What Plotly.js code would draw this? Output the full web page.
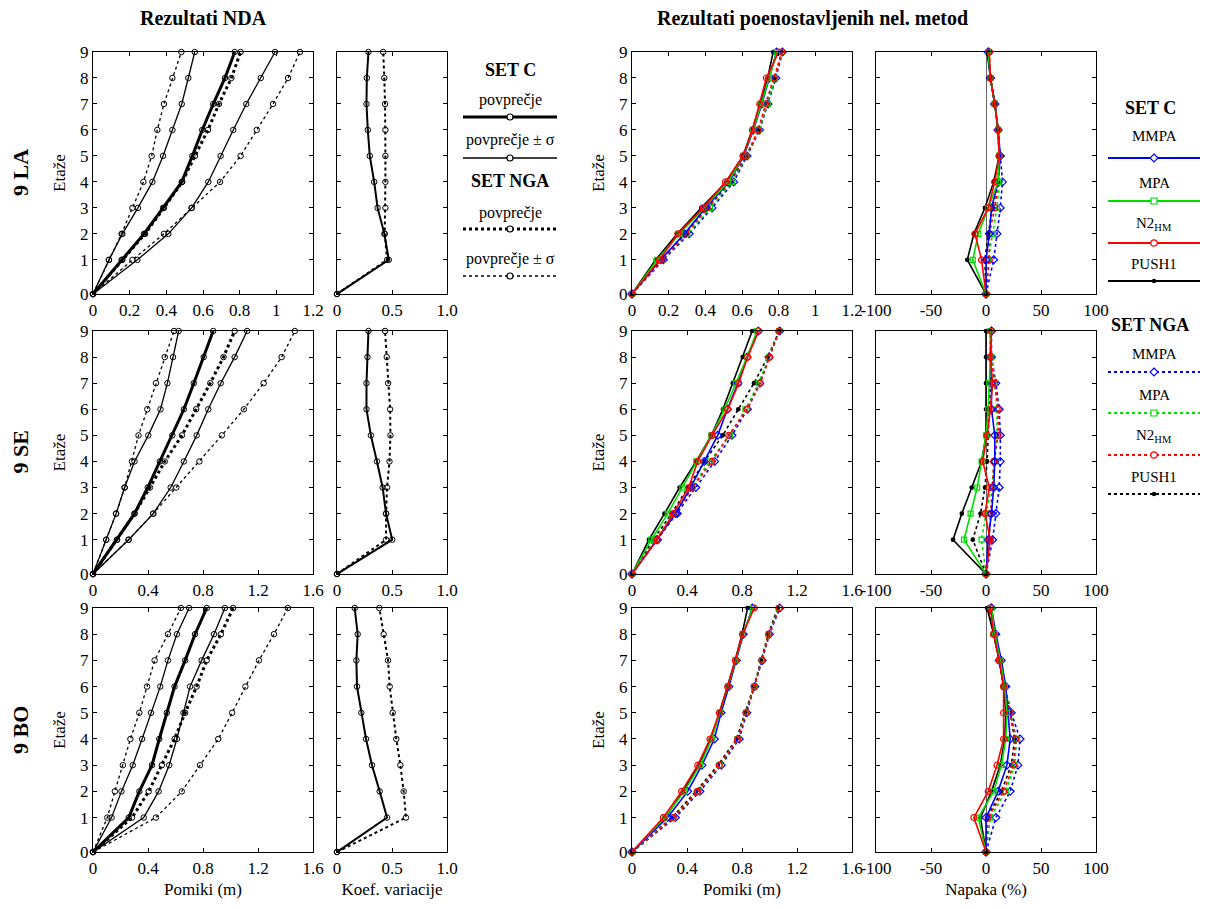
<!DOCTYPE html>
<html><head><meta charset="utf-8">
<script src="https://cdn.plot.ly/plotly-3.0.1.min.js"></script>
<style>html,body{margin:0;padding:0;background:#fff}</style>
</head><body><div id="chart" style="width:1224px;height:909px"></div>
<script>
// ---------- DATA ----------
const floorLabels = ['0','1','2','3','4','5','6','7','8','9'];
const floorElev = [0, 4.6, 8.1, 11.6, 15.1, 18.6, 22.1, 25.6, 29.1, 32.6]; // storey elevations (m)
const errTickVals = [-100, -50, 0, 50, 100];
const errTickText = ['-100', '-50', '0', '50', '100'];
const covTickVals = [0, 0.5, 1];
const covTickText = ['0', '0.5', '1.0'];

// 9 LA - NDA
const la_C_minus   = [0, .087, .160, .245, .324, .382, .433, .484, .520, .555];
const la_C_mean    = [0, .156, .278, .382, .484, .542, .596, .656, .720, .773];
const la_C_plus    = [0, .242, .411, .538, .629, .696, .765, .836, .915, .993];
const la_NGA_minus = [0, .087, .156, .215, .275, .320, .351, .387, .433, .482];
const la_NGA_mean  = [0, .160, .284, .387, .487, .556, .627, .687, .755, .805];
const la_NGA_plus  = [0, .215, .387, .538, .693, .805, .893, .982, 1.064, 1.129];
const la_C_cov     = [0, .471, .431, .369, .338, .298, .280, .268, .271, .286];
const la_NGA_cov   = [0, .455, .434, .440, .440, .440, .440, .437, .430, .420];
// 9 LA - simplified methods
const la_MMPA_C   = [0, .156, .286, .401, .530, .610, .662, .708, .749, .788];
const la_MPA_C    = [0, .137, .259, .390, .525, .607, .660, .705, .747, .790];
const la_N2_C     = [0, .150, .250, .388, .510, .606, .657, .697, .733, .800];
const la_PUSH_C   = [0, .129, .247, .378, .515, .605, .655, .700, .740, .770];
const la_MMPA_NGA = [0, .171, .312, .437, .555, .628, .696, .742, .785, .821];
const la_MPA_NGA  = [0, .163, .301, .426, .545, .623, .693, .740, .780, .818];
const la_N2_NGA   = [0, .165, .293, .410, .534, .624, .688, .729, .775, .818];
const la_PUSH_NGA = [0, .158, .290, .410, .541, .623, .694, .740, .783, .815];
const la_MMPA_C_err   = [0, 0, 3, 5, 11, 13, 11, 8, 4, 2];
const la_MPA_C_err    = [0, -12, -7, 2, 11, 12, 11, 8, 4, 2];
const la_N2_C_err     = [0, -4, -10, 2, 8, 12, 11, 8, 4, 3];
const la_PUSH_C_err   = [0, -17, -11, -1, 7, 12, 11, 8, 4, 1];
const la_MMPA_NGA_err = [0, 7, 10, 13, 15, 13, 11, 8, 4, 2];
const la_MPA_NGA_err  = [0, 2, 6, 10, 12, 12, 11, 8, 4, 2];
const la_N2_NGA_err   = [0, 3, 3, 8, 11, 12, 11, 8, 4, 3];
const la_PUSH_NGA_err = [0, -1, 2, 6, 11, 12, 11, 8, 4, 2];

// 9 SE - NDA
const se_C_minus   = [0, .096, .168, .230, .302, .402, .491, .541, .582, .623];
const se_C_mean    = [0, .175, .302, .398, .486, .577, .661, .733, .805, .874];
const se_C_plus    = [0, .259, .438, .565, .661, .754, .838, .929, 1.030, 1.121];
const se_NGA_minus = [0, .096, .168, .230, .283, .331, .395, .458, .522, .589];
const se_NGA_mean  = [0, .175, .302, .414, .522, .647, .750, .853, .949, 1.030];
const se_NGA_plus  = [0, .259, .438, .606, .774, .937, 1.097, 1.241, 1.372, 1.468];
const se_C_cov     = [0, .502, .446, .415, .363, .308, .268, .268, .277, .286];
const se_NGA_cov   = [0, .446, .446, .455, .477, .486, .483, .465, .452, .437];
// 9 SE - simplified methods
const se_MMPA_C   = [0, .179, .317, .426, .525, .623, .694, .770, .837, .918];
const se_MPA_C    = [0, .140, .260, .366, .467, .577, .674, .755, .837, .909];
const se_N2_C     = [0, .182, .299, .412, .478, .582, .696, .776, .841, .921];
const se_PUSH_C   = [0, .123, .236, .346, .467, .577, .661, .733, .805, .874];
const se_MMPA_NGA = [0, .186, .329, .464, .601, .727, .840, .930, .996, 1.075];
const se_MPA_NGA  = [0, .168, .302, .435, .564, .712, .825, .921, .996, 1.071];
const se_N2_NGA   = [0, .180, .314, .439, .582, .703, .836, .933, 1.001, 1.067];
const se_PUSH_NGA = [0, .154, .287, .410, .527, .660, .773, .887, .987, 1.071];
const se_MMPA_C_err   = [0, 2, 5, 7, 8, 8, 5, 5, 4, 5];
const se_MPA_C_err    = [0, -20, -14, -8, -4, 0, 2, 3, 4, 4];
const se_N2_C_err     = [0, 4, -1, 3, -3, 1, 4, 6, 4, 5];
const se_PUSH_C_err   = [0, -30, -22, -13, -4, 0, 0, 0, 0, 0];
const se_MMPA_NGA_err = [0, 6, 9, 12, 13, 13, 12, 9, 5, 5];
const se_MPA_NGA_err  = [0, -4, 0, 5, 8, 10, 10, 8, 5, 4];
const se_N2_NGA_err   = [0, 3, 4, 6, 7, 11, 11, 8, 4, 5];
const se_PUSH_NGA_err = [0, -12, -5, -1, 1, 2, 3, 4, 4, 4];

// 9 BO - NDA
const bo_C_minus   = [0, .135, .207, .289, .357, .422, .489, .545, .610, .699];
const bo_C_mean    = [0, .260, .337, .429, .482, .537, .593, .670, .742, .827];
const bo_C_plus    = [0, .369, .477, .554, .610, .658, .706, .790, .880, .959];
const bo_NGA_minus = [0, .104, .159, .217, .272, .337, .393, .448, .545, .639];
const bo_NGA_mean  = [0, .284, .405, .501, .593, .670, .754, .827, .930, 1.019];
const bo_NGA_plus  = [0, .458, .646, .778, .911, 1.012, 1.108, 1.207, 1.316, 1.417];
const bo_C_cov     = [0, .455, .388, .318, .264, .221, .182, .176, .188, .161];
const bo_NGA_cov   = [0, .627, .606, .576, .539, .506, .479, .464, .424, .385];
// 9 BO - simplified methods
const bo_MMPA_C   = [0, .259, .405, .509, .599, .648, .705, .760, .810, .875];
const bo_MPA_C    = [0, .240, .380, .495, .580, .640, .700, .755, .805, .880];
const bo_N2_C     = [0, .228, .361, .478, .567, .635, .696, .752, .805, .890];
const bo_PUSH_C   = [0, .245, .370, .485, .572, .636, .694, .750, .800, .841];
const bo_MMPA_NGA = [0, .315, .494, .650, .780, .835, .893, .948, 1.000, 1.075];
const bo_MPA_NGA  = [0, .298, .480, .638, .768, .829, .888, .945, .994, 1.068];
const bo_N2_NGA   = [0, .300, .478, .635, .768, .829, .890, .945, .994, 1.072];
const bo_PUSH_NGA = [0, .290, .465, .625, .760, .825, .885, .940, .990, 1.060];
const bo_MMPA_C_err   = [0, 0, 11, 19, 22, 20, 18, 14, 9, 5];
const bo_MPA_C_err    = [0, -7, 7, 14, 18, 19, 17, 13, 8, 5];
const bo_N2_C_err     = [0, -11, 2, 10, 16, 16, 16, 12, 7, 4];
const bo_PUSH_C_err   = [0, -5, 5, 13, 17, 18, 16, 12, 7, 1];
const bo_MMPA_NGA_err = [0, 9, 22, 29, 31, 23, 17, 12, 8, 5];
const bo_MPA_NGA_err  = [0, 4, 18, 26, 28, 22, 17, 12, 7, 4];
const bo_N2_NGA_err   = [0, 2, 16, 25, 27, 22, 16, 12, 7, 4];
const bo_PUSH_NGA_err = [0, 1, 14, 23, 26, 22, 16, 12, 7, 3];

const rowLabels = ['9 LA', '9 SE', '9 BO'];
const dispRanges = [[0, 1.2], [0, 1.6], [0, 1.6]];
const dispDticks = [0.2, 0.4, 0.4];

// ---------- LAYOUT HELPERS ----------
const W = 1224, H = 909;
const colPx = [[93, 313], [337, 447], [632, 852], [876, 1096]];
const rowPx = [[52, 294], [331, 574], [608, 852]];
const FONT = 'Liberation Serif, Times New Roman, serif';
const px = x => x / W, py = y => 1 - y / H;

const traces = [];
const layout = {
  width: W, height: H, margin: {l: 0, r: 0, t: 0, b: 0},
  paper_bgcolor: '#fff', plot_bgcolor: '#fff', showlegend: false,
  font: {family: FONT, size: 17, color: '#000'},
  annotations: [], shapes: []
};
const an = (name, i) => i === 1 ? name : name + i;

function axes(p, r, c) {
  const xr = c === 1 ? [0, 1] : (c === 3 ? [-100, 100] : dispRanges[r]);
  const x = {
    domain: [px(colPx[c][0]), px(colPx[c][1])], anchor: an('y', p), range: xr,
    showline: true, mirror: 'ticks', linecolor: '#000', linewidth: 1.2,
    ticks: 'inside', ticklen: 4, tickcolor: '#000', showgrid: false,
    zeroline: c === 3, zerolinecolor: '#666', zerolinewidth: 1,
    tickfont: {family: FONT, size: 17, color: '#000'}
  };
  if (c === 1) { x.tickvals = covTickVals; x.ticktext = covTickText; }
  else if (c === 3) { x.tickvals = errTickVals; x.ticktext = errTickText; }
  else { x.tick0 = 0; x.dtick = dispDticks[r]; }
  if (r === 2) {
    const t = ['Pomiki (m)', 'Koef. variacije', 'Pomiki (m)', 'Napaka (%)'][c];
    x.title = {text: t, font: {family: FONT, size: 17}, standoff: 6};
  }
  const y = {
    domain: [py(rowPx[r][1]), py(rowPx[r][0])], anchor: an('x', p), range: [0, floorElev[9]],
    showline: true, mirror: 'ticks', linecolor: '#000', linewidth: 1.2,
    ticks: 'inside', ticklen: 4, tickcolor: '#000', showgrid: false, zeroline: false,
    tickvals: floorElev, ticktext: floorLabels,
    showticklabels: (c === 0 || c === 2),
    tickfont: {family: FONT, size: 17, color: '#000'}
  };
  if (c === 0 || c === 2) y.title = {text: 'Etaže', font: {family: FONT, size: 17}, standoff: 10};
  layout[an('xaxis', p)] = x;
  layout[an('yaxis', p)] = y;
}

function tr(p, xs, style) {
  traces.push(Object.assign({
    type: 'scatter', mode: 'lines+markers', x: xs, y: floorElev,
    xaxis: an('x', p), yaxis: an('y', p), hoverinfo: 'skip', cliponaxis: false
  }, style));
}
const ndaStyle = (w, dash) => ({line: {color: '#000', width: w, dash: dash},
  marker: {symbol: 'circle-open', size: 5.5, color: '#000', line: {width: 1}}});

const BLUE = '#0000ff', GREEN = '#00dd00', RED = '#ff0000', BLACK = '#000000';
const methStyle = (color, sym, size, dash) => ({line: {color: color, width: 1.6, dash: dash},
  marker: {symbol: sym, size: size, color: color, line: {width: 1.2, color: color}}});

const ndaSets = [
  [la_C_minus, la_C_mean, la_C_plus, la_NGA_minus, la_NGA_mean, la_NGA_plus, la_C_cov, la_NGA_cov],
  [se_C_minus, se_C_mean, se_C_plus, se_NGA_minus, se_NGA_mean, se_NGA_plus, se_C_cov, se_NGA_cov],
  [bo_C_minus, bo_C_mean, bo_C_plus, bo_NGA_minus, bo_NGA_mean, bo_NGA_plus, bo_C_cov, bo_NGA_cov]
];
const methSets = [
  [[la_PUSH_NGA, la_MMPA_NGA, la_MPA_NGA, la_N2_NGA], [la_PUSH_C, la_MMPA_C, la_MPA_C, la_N2_C],
   [la_PUSH_NGA_err, la_MMPA_NGA_err, la_MPA_NGA_err, la_N2_NGA_err], [la_PUSH_C_err, la_MMPA_C_err, la_MPA_C_err, la_N2_C_err]],
  [[se_PUSH_NGA, se_MMPA_NGA, se_MPA_NGA, se_N2_NGA], [se_PUSH_C, se_MMPA_C, se_MPA_C, se_N2_C],
   [se_PUSH_NGA_err, se_MMPA_NGA_err, se_MPA_NGA_err, se_N2_NGA_err], [se_PUSH_C_err, se_MMPA_C_err, se_MPA_C_err, se_N2_C_err]],
  [[bo_PUSH_NGA, bo_MMPA_NGA, bo_MPA_NGA, bo_N2_NGA], [bo_PUSH_C, bo_MMPA_C, bo_MPA_C, bo_N2_C],
   [bo_PUSH_NGA_err, bo_MMPA_NGA_err, bo_MPA_NGA_err, bo_N2_NGA_err], [bo_PUSH_C_err, bo_MMPA_C_err, bo_MPA_C_err, bo_N2_C_err]]
];
const methLook = [[BLACK, 'circle', 3.5], [BLUE, 'diamond-open', 6], [GREEN, 'square-open', 5], [RED, 'circle-open', 6]];

function txt(t, x, y, size, extra) {
  layout.annotations.push(Object.assign({text: t, xref: 'paper', yref: 'paper', x: px(x), y: py(y),
    showarrow: false, xanchor: 'center', yanchor: 'middle', font: {family: FONT, size: size, color: '#000'}}, extra || {}));
}

for (let r = 0; r < 3; r++) {
  for (let c = 0; c < 4; c++) axes(r * 4 + c + 1, r, c);
  const d = ndaSets[r];
  const p1 = r * 4 + 1, p2 = r * 4 + 2, p3 = r * 4 + 3, p4 = r * 4 + 4;
  tr(p1, d[3], ndaStyle(1.3, 'dot'));
  tr(p1, d[5], ndaStyle(1.3, 'dot'));
  tr(p1, d[0], ndaStyle(1.3, 'solid'));
  tr(p1, d[2], ndaStyle(1.3, 'solid'));
  tr(p1, d[1], ndaStyle(3, 'solid'));
  tr(p1, d[4], ndaStyle(3, 'dot'));
  tr(p2, d[7], ndaStyle(2, 'dot'));
  tr(p2, d[6], ndaStyle(2, 'solid'));
  const m = methSets[r];
  [[p3, m[0], 'dot'], [p3, m[1], 'solid'], [p4, m[2], 'dot'], [p4, m[3], 'solid']].forEach(([p, arrs, dash]) => {
    arrs.forEach((a, k) => tr(p, a, methStyle(methLook[k][0], methLook[k][1], methLook[k][2], dash)));
  });
  txt('<b>' + rowLabels[r] + '</b>', 20, (rowPx[r][0] + rowPx[r][1]) / 2, 22, {textangle: -90});
}

// titles
txt('<b>Rezultati NDA</b>', 203, 18, 20);
txt('<b>Rezultati poenostavljenih nel. metod</b>', 812, 18, 20);

// legend helpers
function lline(x0, x1, y, color, w, dash) {
  layout.shapes.push({type: 'line', xref: 'paper', yref: 'paper', x0: px(x0), x1: px(x1), y0: py(y), y1: py(y),
    line: {color: color, width: w, dash: dash}});
}
function lcircle(x, y, rr, color, fill) {
  layout.shapes.push({type: 'circle', xref: 'paper', yref: 'paper', x0: px(x - rr), x1: px(x + rr), y0: py(y + rr), y1: py(y - rr),
    line: {color: color, width: 1.2}, fillcolor: fill});
}
function lsquare(x, y, rr, color) {
  layout.shapes.push({type: 'rect', xref: 'paper', yref: 'paper', x0: px(x - rr), x1: px(x + rr), y0: py(y + rr), y1: py(y - rr),
    line: {color: color, width: 1.2}, fillcolor: '#fff'});
}
function ldiamond(x, y, rr, color) {
  const P = (a, b) => px(a) + ',' + py(b);
  layout.shapes.push({type: 'path', xref: 'paper', yref: 'paper',
    path: 'M' + P(x, y - rr) + ' L' + P(x + rr, y) + ' L' + P(x, y + rr) + ' L' + P(x - rr, y) + ' Z',
    line: {color: color, width: 1.2}, fillcolor: '#fff'});
}

// left legend (NDA)
const LX0 = 463, LX1 = 557, LXC = 510;
txt('<b>SET C</b>', LXC, 70, 18);
txt('povprečje', LXC, 100, 16);
lline(LX0, LX1, 117, '#000', 3, 'solid'); lcircle(LXC, 117, 3, '#000', '#fff');
txt('povprečje ± σ', LXC, 140, 16);
lline(LX0, LX1, 158, '#000', 1.3, 'solid'); lcircle(LXC, 158, 3, '#000', '#fff');
txt('<b>SET NGA</b>', LXC, 181, 18);
txt('povprečje', LXC, 213, 16);
lline(LX0, LX1, 229, '#000', 3, 'dot'); lcircle(LXC, 229, 3, '#000', '#fff');
txt('povprečje ± σ', LXC, 259, 16);
lline(LX0, LX1, 276, '#000', 1.3, 'dot'); lcircle(LXC, 276, 3, '#000', '#fff');

// right legend (methods)
const RX0 = 1108, RX1 = 1200, RXC = 1154;
const legItems = [['MMPA', BLUE, 'd'], ['MPA', GREEN, 's'], ['N2<sub>HM</sub>', RED, 'o'], ['PUSH1', BLACK, '.']];
function legBlock(title, ty, ys, dash) {
  txt('<b>' + title + '</b>', RXC - 4, ty, 18);
  legItems.forEach((it, k) => {
    txt(it[0], RXC, ys[k][0], 15);
    lline(RX0, RX1, ys[k][1], it[1], 1.8, dash);
    if (it[2] === 'd') ldiamond(RXC, ys[k][1], 4, it[1]);
    else if (it[2] === 's') lsquare(RXC, ys[k][1], 3, it[1]);
    else if (it[2] === 'o') lcircle(RXC, ys[k][1], 3.2, it[1], '#fff');
    else lcircle(RXC, ys[k][1], 1.6, it[1], it[1]);
  });
}
legBlock('SET C', 108, [[136, 158], [183, 201], [224, 243], [264, 281]], 'solid');
legBlock('SET NGA', 325, [[354, 372], [395, 413], [436, 455], [477, 494]], 'dot');

Plotly.newPlot('chart', traces, layout, {staticPlot: true});
</script></body></html>
